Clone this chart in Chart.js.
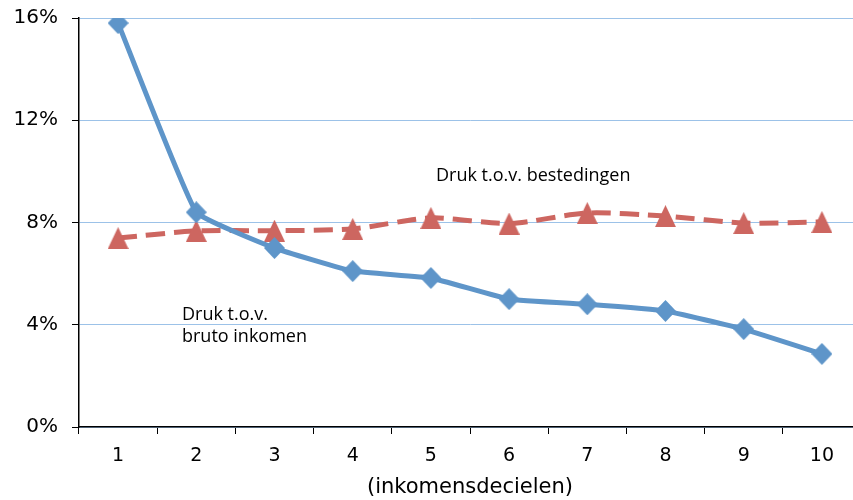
<!DOCTYPE html>
<html>
<head>
<meta charset="utf-8">
<script src="https://cdn.jsdelivr.net/npm/chart.js@4/dist/chart.umd.min.js"></script>
<style>
html,body{margin:0;padding:0;background:#fff;overflow:hidden;width:853px;height:500px;}
#wrap{position:absolute;left:0;top:0;width:875px;height:500px;}
</style>
</head>
<body>
<div id="wrap"><canvas id="c" width="875" height="500"></canvas></div>
<script>
const categories = ['1','2','3','4','5','6','7','8','9','10'];
const brutoInkomen = [15.8, 8.4, 7.0, 6.1, 5.83, 5.0, 4.8, 4.54, 3.83, 2.86];
const bestedingen = [7.39, 7.67, 7.68, 7.75, 8.18, 7.96, 8.37, 8.25, 7.98, 8.02];
const yTicks = [0, 4, 8, 12, 16];
const annotations = [
  {text: 'Druk t.o.v. bestedingen', x: 436, y: 181},
  {text: 'Druk t.o.v.', x: 182, y: 320},
  {text: 'bruto inkomen', x: 182, y: 342}
];

const RED = '#CD6660';
const BLUE = '#5E95C9';

function makeMarker(w, h, color, shape) {
  const c = document.createElement('canvas');
  c.width = w; c.height = h;
  const g = c.getContext('2d');
  g.fillStyle = color;
  g.beginPath();
  if (shape === 'triangle') {
    g.moveTo(w / 2, 0); g.lineTo(w, h); g.lineTo(0, h);
  } else {
    g.moveTo(w / 2, 0); g.lineTo(w, h / 2); g.lineTo(w / 2, h); g.lineTo(0, h / 2);
  }
  g.closePath();
  g.fill();
  return c;
}
const triMarker = makeMarker(21, 22, RED, 'triangle');
const diaMarker = makeMarker(21, 22, BLUE, 'diamond');

const labelPlugin = {
  id: 'labels',
  afterDatasetsDraw(chart) {
    const ctx = chart.ctx;
    ctx.save();
    ctx.font = '18px "Open Sans"';
    ctx.fillStyle = '#000';
    ctx.textBaseline = 'alphabetic';
    ctx.textAlign = 'left';
    annotations.forEach(a => ctx.fillText(a.text, a.x, a.y));
    ctx.restore();
  }
};

new Chart(document.getElementById('c'), {
  type: 'line',
  data: {
    labels: categories,
    datasets: [
      {
        data: bestedingen,
        borderColor: RED,
        backgroundColor: RED,
        borderWidth: 5,
        borderDash: [19, 9],
        pointStyle: triMarker,
        pointRadius: 11,
        pointBorderWidth: 0,
        tension: 0.25,
        order: 2
      },
      {
        data: brutoInkomen,
        borderColor: BLUE,
        backgroundColor: BLUE,
        borderWidth: 5,
        pointStyle: diaMarker,
        pointRadius: 11,
        pointBorderWidth: 0,
        tension: 0.1,
        order: 1
      }
    ]
  },
  options: {
    responsive: false,
    animation: false,
    devicePixelRatio: 1,
    layout: {padding: {top: 18, right: 14, left: 0, bottom: 0}},
    plugins: {legend: {display: false}, tooltip: {enabled: false}},
    scales: {
      x: {
        offset: true,
        grid: {drawOnChartArea: false, drawTicks: true, tickLength: 7, tickColor: '#000', offset: true},
        border: {color: '#000', width: 1.5},
        ticks: {color: '#000', font: {family: 'DejaVu Sans', size: 19}, padding: 11, maxRotation: 0},
        title: {display: true, text: '(inkomensdecielen)', color: '#000', font: {family: 'DejaVu Sans', size: 21}, padding: {top: 0, bottom: 0}},
        afterFit(s) { s.height = 73; s.paddingLeft = 0; s.paddingRight = 0; }
      },
      y: {
        min: 0, max: 16,
        afterBuildTicks(s) { s.ticks = yTicks.map(v => ({value: v})); },
        grid: {color: '#9CC2E8', lineWidth: 1, drawTicks: true, tickLength: 7, tickColor: '#000'},
        border: {color: '#000', width: 1.5},
        ticks: {color: '#000', font: {family: 'DejaVu Sans', size: 20}, padding: 14, callback: v => v + '%'},
        afterFit(s) { s.width = 79; s.paddingTop = 0; s.paddingBottom = 0; }
      }
    }
  },
  plugins: [labelPlugin]
});
</script>
</body>
</html>
